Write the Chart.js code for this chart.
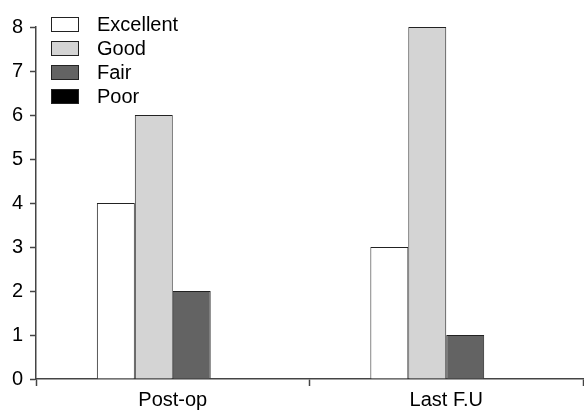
<!DOCTYPE html>
<html>
<head>
<meta charset="utf-8">
<script src="https://cdn.jsdelivr.net/npm/chart.js@4"></script>
<style>
  html, body { margin: 0; padding: 0; background: #fff; }
  #wrap { width: 584px; height: 412px; }
</style>
</head>
<body>
<div id="wrap"><canvas id="chart"></canvas></div>
<script>
// --- data ---
const categories = ['Post-op', 'Last F.U'];
const seriesNames = ['Excellent', 'Good', 'Fair', 'Poor'];
const excellent = [4, 3];
const good = [6, 8];
const fair = [2, 1];
const poor = [0, 0];
const yTicks = [0, 1, 2, 3, 4, 5, 6, 7, 8];

const fills = ['#ffffff', '#d4d4d4', '#636363', '#000000'];
const axisColor = '#444';
const fontFamily = '"Liberation Sans", Arial, sans-serif';

// legend drawn inside the plot, top-left
const insideLegend = {
  id: 'insideLegend',
  afterDraw(chart) {
    const ctx = chart.ctx;
    ctx.save();
    ctx.font = '20px ' + fontFamily;
    ctx.textBaseline = 'middle';
    chart.data.datasets.forEach((ds, i) => {
      const y = 17 + i * 24;
      ctx.fillStyle = ds.backgroundColor;
      ctx.fillRect(51, y, 28, 15);
      ctx.strokeStyle = '#222';
      ctx.lineWidth = 1;
      ctx.strokeRect(51.5, y + 0.5, 27, 14);
      ctx.fillStyle = '#000';
      ctx.fillText(ds.label, 97, y + 8);
    });
    ctx.restore();
  }
};

const values = [excellent, good, fair, poor];

new Chart(document.getElementById('chart'), {
  type: 'bar',
  data: {
    labels: categories,
    datasets: seriesNames.map((name, i) => ({
      label: name,
      data: values[i],
      backgroundColor: fills[i],
      borderColor: '#222',
      borderWidth: 1,
      barPercentage: 1.0,
      categoryPercentage: 0.555
    }))
  },
  options: {
    responsive: true,
    maintainAspectRatio: false,
    animation: false,
    layout: { padding: { top: 27, right: 1, left: 0, bottom: 0 } },
    plugins: {
      legend: { display: false },
      tooltip: { enabled: false }
    },
    scales: {
      x: {
        offset: true,
        grid: {
          offset: true,
          drawOnChartArea: false,
          drawTicks: true,
          tickLength: 7,
          tickColor: axisColor,
          tickWidth: 1.5
        },
        border: { display: true, color: axisColor, width: 1.5 },
        ticks: {
          color: '#000',
          padding: 2,
          font: { family: fontFamily, size: 20 }
        },
        afterFit(scale) { scale.height = 33; }
      },
      y: {
        min: 0,
        max: 8,
        afterBuildTicks(scale) { scale.ticks = yTicks.map(v => ({ value: v })); },
        grid: {
          drawOnChartArea: false,
          drawTicks: true,
          tickLength: 6,
          tickColor: axisColor,
          tickWidth: 1.5
        },
        border: { display: true, color: axisColor, width: 1.5 },
        ticks: {
          color: '#000',
          padding: 7,
          font: { family: fontFamily, size: 20 }
        },
        afterFit(scale) { scale.width = 36; }
      }
    }
  },
  plugins: [insideLegend]
});
</script>
</body>
</html>
